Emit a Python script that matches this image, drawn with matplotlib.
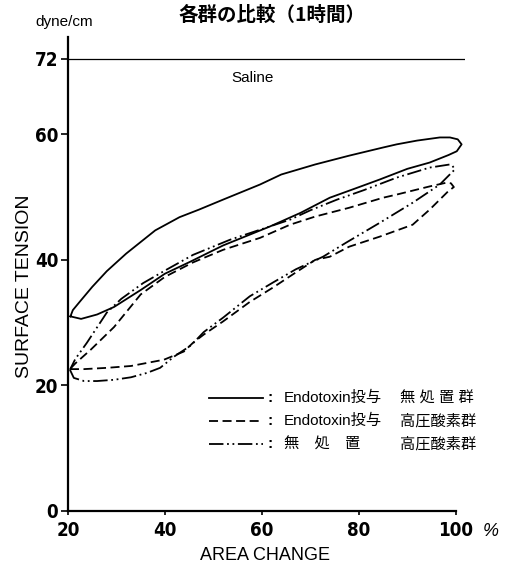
import matplotlib
matplotlib.use("Agg")
import matplotlib.pyplot as plt

plt.rcParams['font.family'] = ['Liberation Sans', 'Noto Sans CJK JP', 'DejaVu Sans']

# saline reference level (dyne/cm)
saline_level = 72

# loop 1: Endotoxin投与 無処置群 (solid), traced left tip -> lower branch -> right tip -> upper branch
solid_x = [20.5, 22.7, 26.0, 29.5, 35.0, 40.0, 45.2, 52.0, 61.6, 68.0, 74.0, 79.0, 84.3, 90.0,
           94.6, 98.5, 100.2, 101.2, 100.4, 98.8, 96.7, 92.0, 87.8, 85.0, 78.0, 71.0, 64.0,
           59.6, 52.0, 47.0, 43.0, 38.0, 32.0, 28.0, 25.0, 22.5, 21.0, 20.5]
solid_y = [31.0, 30.6, 31.3, 32.5, 35.2, 37.8, 39.7, 42.3, 45.3, 47.5, 49.9, 51.3, 52.8, 54.5,
           55.5, 56.7, 57.3, 58.4, 59.2, 59.5, 59.5, 59.0, 58.4, 57.9, 56.6, 55.2, 53.6,
           52.0, 49.6, 48.0, 46.8, 44.7, 41.0, 38.2, 35.7, 33.4, 32.0, 31.0]

# loop 2: Endotoxin投与 高圧酸素群 (dashed)
dash_x = [20.4, 23.3, 28.0, 33.0, 39.8, 43.9, 45.8, 48.0, 52.0, 57.5, 62.3, 67.0, 71.0, 74.0,
          78.0, 84.3, 91.1, 94.6, 98.4, 99.6, 99.0, 98.1, 94.6, 87.8, 85.0, 78.0, 74.0, 71.0,
          65.8, 59.6, 52.0, 45.8, 40.0, 35.0, 29.5, 24.7, 21.5, 20.4]
dash_y = [22.6, 22.6, 22.8, 23.1, 24.1, 25.4, 26.8, 28.1, 30.2, 33.3, 35.6, 38.0, 40.0, 40.5,
          42.1, 43.7, 45.6, 48.0, 50.9, 51.6, 52.2, 52.3, 51.7, 50.4, 49.9, 48.3, 47.5, 46.9,
          45.6, 43.5, 41.6, 39.6, 37.3, 34.5, 29.3, 25.7, 23.5, 22.6]

# loop 3: 無処置 高圧酸素群 (dash-dot-dot)
ddot_x = [20.4, 21.2, 23.3, 26.0, 29.5, 33.0, 36.3, 39.0, 41.9, 45.4, 48.0, 52.0, 57.5, 62.3,
          67.0, 72.6, 77.5, 84.3, 91.1, 96.7, 98.5, 99.8, 99.3, 98.8, 94.6, 87.8, 81.0, 75.5,
          70.0, 65.8, 59.6, 53.4, 45.8, 40.0, 35.5, 31.0, 28.0, 23.9, 21.5, 20.4]
ddot_y = [22.5, 21.2, 20.7, 20.7, 20.9, 21.3, 22.0, 22.8, 24.6, 26.4, 28.5, 30.8, 34.2, 36.4,
          38.5, 40.5, 42.8, 45.9, 49.1, 52.0, 53.4, 54.4, 55.0, 55.2, 54.7, 53.1, 51.1, 49.6,
          47.9, 46.4, 44.8, 43.2, 40.8, 38.3, 36.3, 33.8, 31.6, 26.8, 24.2, 22.5]

x_ticks = [20, 40, 60, 80, 100]
y_ticks = [0, 20, 40, 60, 72]

legend_rows = [
    ('-', 'Endotoxin投与', '無 処 置 群'),
    ((0, (5, 2.5)), 'Endotoxin投与', '高圧酸素群'),
    ((0, (8, 2, 1, 2, 1, 2)), '無　処　置', '高圧酸素群'),
]

fig = plt.figure(figsize=(5.08, 5.66), dpi=100)
ax = fig.add_axes([68 / 508, 55 / 566, 397 / 508, 474 / 566])

lw = 1.3
ax.axhline(saline_level, color='black', lw=0.9)
ax.plot(solid_x, solid_y, color='black', lw=lw, linestyle='-')
ax.plot(dash_x, dash_y, color='black', lw=lw, linestyle=(0, (5, 2.5)))
ax.plot(ddot_x, ddot_y, color='black', lw=lw, linestyle=(0, (8, 2, 1, 2, 1, 2)))

ax.set_xlim(20, 101.9)
ax.set_ylim(0, 75.5)

for s in ['top', 'right']:
    ax.spines[s].set_visible(False)
ax.spines['left'].set_linewidth(1.6)
ax.spines['bottom'].set_linewidth(1.6)
ax.spines['bottom'].set_bounds(20, 100)

tick_font = dict(family=['DejaVu Sans'], weight='bold', size=13.5, stretch='condensed')
ax.set_xticks(x_ticks)
ax.set_xticklabels([str(v) for v in x_ticks], fontdict=tick_font)
ax.set_yticks(y_ticks)
ax.set_yticklabels([str(v) for v in y_ticks], fontdict=tick_font)
ax.tick_params(axis='y', direction='out', length=5, width=1.2, pad=2)
ax.tick_params(axis='x', direction='out', length=3, width=1.2, pad=4)

fig.text(491 / 508, 1 - 532 / 566, '%', fontsize=13, style='italic', ha='center', va='center')

ax.text(58, 69, 'Saline', fontsize=11, ha='center', va='center')

fig.text(272 / 508, 1 - 15 / 566, '各群の比較（1時間）', fontsize=14, weight='bold',
         ha='center', va='center', family=['Noto Sans CJK JP'])
fig.text(64 / 508, 1 - 22 / 566, 'dyne/cm', fontsize=11, ha='center', va='center')
fig.text(265 / 508, 1 - 555 / 566, 'AREA CHANGE', fontsize=13, ha='center', va='center')
fig.text(25 / 508, 1 - 286 / 566, 'SURFACE TENSION', fontsize=14, rotation=90,
         ha='center', va='center')

# hand drawn style legend
row_y = [0.238, 0.190, 0.141]
for (ls, a, b), yy in zip(legend_rows, row_y):
    ax.plot([0.355, 0.491], [yy, yy], transform=ax.transAxes, color='black', lw=lw, linestyle=ls)
    ax.text(0.509, yy, ':', transform=ax.transAxes, fontsize=11, ha='center', va='center',
            weight='bold')
    ax.text(0.544, yy, a, transform=ax.transAxes, fontsize=11, ha='left', va='center')
    ax.text(0.836, yy, b, transform=ax.transAxes, fontsize=11, ha='left', va='center')

fig.savefig('out.png', dpi=100)
